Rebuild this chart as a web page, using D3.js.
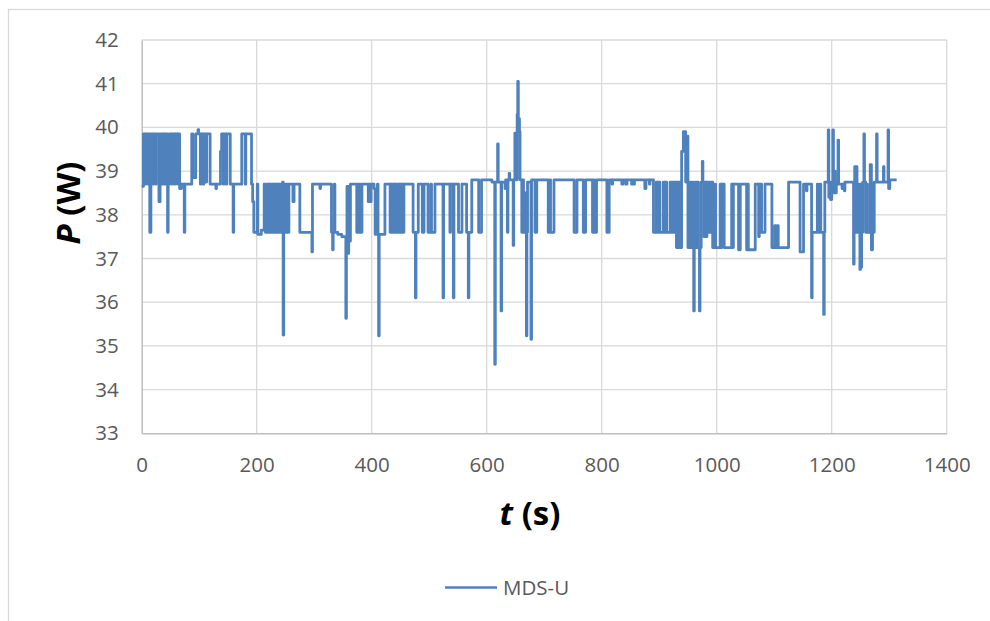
<html>
<head>
	<meta charset='utf-8' />
	<title>MDS-U power</title>
	<script src="https://cdn.jsdelivr.net/npm/d3@7"></script>
	<style>
	body { margin: 0; background: #fff; }
	text { font-family: "Open Sans", "Noto Sans", sans-serif; }
	</style>
</head>
<body>
<script>

	// tick values
	var xTicks = [0, 200, 400, 600, 800, 1000, 1200, 1400];
	var yTicks = [33, 34, 35, 36, 37, 38, 39, 40, 41, 42];
	var seriesName = "MDS-U";

	// [t (s), P (W)] change points, drawn as steps
	var mdsU = [
		[0,38.65],[3,39.85],[6,38.7],[7,39.85],[11,38.7],[12,39.85],[14,37.6],[16,39.85],[19,38.7],[20,39.85],
		[24,38.7],[25,39.85],[30,38.3],[32,39.85],[36,38.7],[37,39.85],[40,38.7],[41,39.85],[45,37.6],[46,38.7],
		[48,39.85],[52,38.7],[53,39.85],[57,38.7],[58,39.85],[62,38.7],[63,39.85],[66,38.6],[69,38.7],
		[74,37.6],[75,38.7],[87,39.85],[89,38.85],[94,39.85],[98,39.95],[99,39.85],[102,38.7],[103,39.85],
		[107,38.7],[108,39.85],[112,38.75],[113,39.85],[119,38.7],[129,38.6],[130,38.7],[137,39.45],
		[139,39.85],[142,38.7],[143,39.85],[147,38.7],[148,39.85],[154,38.7],
		[159,37.6],[160,38.7],[174,39.85],[180,38.7],[181,39.85],[191,38.7],[193,38.3],[195,37.6],
		[201,38.7],[202,37.55],[208,37.65],[213,38.7],[215,37.6],[217,38.7],[219,37.6],[220,38.7],[222,37.6],[223,38.7],
		[225,37.6],[227,38.7],[229,37.6],[230,38.7],[232,37.6],[233,38.7],[236,37.6],[237,38.7],[239,37.6],[240,38.7],
		[243,37.6],[245,38.75],[246,35.25],[247,37.6],[249,38.7],[251,37.6],[253,38.7],[254,37.6],[256,38.7],[263,38.3],
		[265,38.7],[275,37.6],[296,37.15],[297,38.7],[310,38.6],[311,38.7],[330,37.6],[332,37.2],[333,37.6],[335,38.7],
		[336,37.6],[341,37.55],[348,37.5],[355,35.63],[356,37.5],[357,38.65],[359,37.12],[360,38.65],[362,37.4],[363,38.7],
		[374,37.6],[376,38.7],[377,37.6],[379,38.7],[380,37.6],[383,38.7],[394,38.3],[396,38.7],[397,38.3],[399,38.7],
		[404,38.6],[406,37.55],[410,38.7],[411,37.55],[412,35.23],[413,37.55],[423,38.7],[432,37.6],[433,38.7],[435,37.6],
		[436,38.7],[438,37.6],[439,38.7],[441,37.6],[442,38.7],[444,37.6],[446,38.7],[448,37.6],[449,38.7],[451,37.6],
		[452,38.7],[455,37.6],[456,38.7],[472,37.6],[476,36.1],[477,37.6],[481,38.7],[488,37.6],[491,38.7],[498,37.6],
		[503,38.7],[504,37.6],[510,38.7],[524,36.1],[525,38.7],[536,37.6],[537,38.7],[542,36.1],[543,38.7],[551,37.6],
		[557,38.7],[565,37.6],[568,36.1],[569,37.6],[574,38.8],
		[586,37.6],[591,38.8],[609,38.75],[614,34.58],[615,38.75],[619,39.62],[620,38.75],[625,35.8],[626,38.75],[632,38.6],
		[633,38.8],[636,37.6],[637,38.8],[639,38.95],[640,38.8],[646,37.3],[647,38.8],[649,39.87],[651,38.8],[653,40.3],
		[654,41.05],[655,40.2],[657,39.9],[658,38.8],[661,37.6],[663,38.8],[664,37.6],[667,38.5],[669,35.23],[670,37.6],
		[671,38.75],[677,35.15],[678,38.8],[684,37.6],[687,38.8],[707,37.6],[710,38.8],[711,37.6],[717,38.8],[752,37.6],
		[757,38.8],[768,37.6],[772,38.8],[784,37.6],[786,38.8],[787,37.6],[791,38.8],[809,37.6],[813,38.8],[818,38.7],
		[819,38.8],[835,38.7],[837,38.8],[842,38.7],[844,38.8],[852,38.7],[853,38.8],[856,38.7],[857,38.8],[875,38.6],
		[877,38.8],[883,38.7],[884,38.8],
		[890,37.6],[895,38.75],[897,37.6],[898,38.75],[901,37.6],[907,38.75],[909,37.6],[910,38.75],[913,37.6],[919,38.75],
		[921,37.6],[923,38.75],[925,37.6],[926,38.75],[930,37.25],[932,38.75],[933,37.25],[935,38.75],[936,37.25],[939,39.45],
		[942,39.9],[946,38.75],[947,39.8],[950,37.25],[952,38.75],[953,37.25],[955,38.75],[956,37.25],[959,38.75],[960,35.8],
		[961,37.25],[963,38.75],[964,37.25],[966,38.75],[968,37.25],[970,35.8],[971,37.25],[973,38.75],[975,39.22],[976,38.75],
		[978,37.5],[979,38.75],[982,37.5],[983,38.75],[986,37.6],[989,38.75],
		[993,37.25],[997,38.7],[998,37.25],[1006,38.7],[1008,37.25],[1009,38.7],[1013,37.25],[1026,38.7],[1028,37.25],[1029,38.7],
		[1038,37.2],[1041,38.7],[1052,37.2],[1054,38.7],[1055,37.2],[1067,38.7],[1073,37.5],[1074,38.7],[1078,37.6],[1084,38.7],
		[1096,37.25],[1101,37.75],[1103,37.25],[1106,37.75],[1107,37.25],[1125,38.75],[1145,37.15],[1151,38.7],[1156,38.55],[1157,38.7],
		[1165,36.1],[1166,37.6],[1175,38.7],[1176,37.6],[1180,38.7],[1181,37.6],[1186,35.72],[1187,37.6],[1188,38.75],[1194,39.94],
		[1195,38.4],[1197,38.75],[1198,38.35],[1200,38.75],[1202,39.94],[1203,38.5],[1205,39.0],[1206,38.5],[1208,38.75],[1211,39.71],
		[1212,38.7],[1218,38.6],[1219,38.7],[1222,38.55],[1223,38.75],[1238,36.87],[1239,38.75],[1240,39.1],[1241,37.6],[1243,39.1],
		[1244,37.6],[1246,38.7],[1247,37.6],[1249,36.75],[1250,38.7],[1251,36.8],[1252,37.6],[1254,38.75],[1256,39.85],[1257,38.75],
		[1259,37.6],[1261,38.7],[1262,37.6],[1267,39.15],[1269,37.2],[1271,38.7],[1272,37.6],[1274,38.75],[1278,39.85],[1279,38.75],
		[1290,39.1],[1291,38.75],[1298,39.94],[1299,38.6],[1301,38.8],[1313,38.8]
	];

	var W = 990, H = 621;
	var margin = {top: 40, right: 43.3, bottom: 187.7, left: 141.7};
	var width = W - margin.left - margin.right,
	    height = H - margin.top - margin.bottom;

	var base = d3.select("body").append("svg")
		.attr("width", W)
		.attr("height", H);

	// chart frame
	base.append("rect")
		.attr("x", 8.5).attr("y", 9.5)
		.attr("width", 1000).attr("height", 700)
		.attr("fill", "none")
		.attr("stroke", "#d9d9d9")
		.attr("stroke-width", 1.3);

	var svg = base.append("g").attr("transform", "translate(" + margin.left + "," + margin.top + ")");

	var xScale = d3.scaleLinear().domain([0, 1400]).range([0, width]);
	var yScale = d3.scaleLinear().domain([33, 42]).range([height, 0]);

	// grid
	svg.append("g").selectAll("line.h")
		.data(yTicks.slice(1))
		.enter().append("line")
		.attr("x1", 0).attr("x2", width)
		.attr("y1", d => yScale(d)).attr("y2", d => yScale(d))
		.attr("stroke", "#d9d9d9").attr("stroke-width", 1.3);

	svg.append("g").selectAll("line.v")
		.data(xTicks.slice(1))
		.enter().append("line")
		.attr("x1", d => xScale(d)).attr("x2", d => xScale(d))
		.attr("y1", 0).attr("y2", height)
		.attr("stroke", "#d9d9d9").attr("stroke-width", 1.3);

	// axes
	var yAxis = svg.append("g")
		.call(d3.axisLeft(yScale).tickValues(yTicks).tickFormat(d3.format("d")).tickSize(0).tickPadding(23));
	var xAxis = svg.append("g")
		.attr("transform", "translate(0," + height + ")")
		.call(d3.axisBottom(xScale).tickValues(xTicks).tickFormat(d3.format("d")).tickSize(0).tickPadding(24));

	[yAxis, xAxis].forEach(function(a) {
		a.select(".domain").attr("stroke", "#bfbfbf").attr("stroke-width", 1.5);
		a.selectAll("text")
			.attr("fill", "#595959")
			.style("font-size", "20.5px")
			.style("font-family", "'Open Sans', sans-serif");
	});

	// series
	var line = d3.line()
		.x(d => xScale(d[0]))
		.y(d => yScale(d[1]))
		.curve(d3.curveStepAfter);

	svg.append("path")
		.datum(mdsU)
		.attr("fill", "none")
		.attr("stroke", "#4f81bd")
		.attr("stroke-width", 2.8)
		.attr("stroke-linejoin", "round")
		.attr("d", line);

	// axis titles
	var yTitle = base.append("text")
		.attr("transform", "translate(80,203) rotate(-90)")
		.attr("text-anchor", "middle")
		.style("font-size", "33px")
		.style("font-weight", "bold")
		.attr("fill", "#000");
	yTitle.append("tspan").style("font-style", "italic").text("P");
	yTitle.append("tspan").text(" (W)");

	var xTitle = base.append("text")
		.attr("x", 530).attr("y", 525)
		.attr("text-anchor", "middle")
		.style("font-size", "33px")
		.style("font-weight", "bold")
		.attr("fill", "#000");
	xTitle.append("tspan").style("font-style", "italic").text("t");
	xTitle.append("tspan").text(" (s)");

	// legend
	base.append("line")
		.attr("x1", 445).attr("x2", 497)
		.attr("y1", 587.5).attr("y2", 587.5)
		.attr("stroke", "#4f81bd")
		.attr("stroke-width", 2.5);
	base.append("text")
		.attr("x", 503).attr("y", 595)
		.attr("fill", "#595959")
		.style("font-size", "20.5px")
		.text(seriesName);

</script>
</body>
</html>
